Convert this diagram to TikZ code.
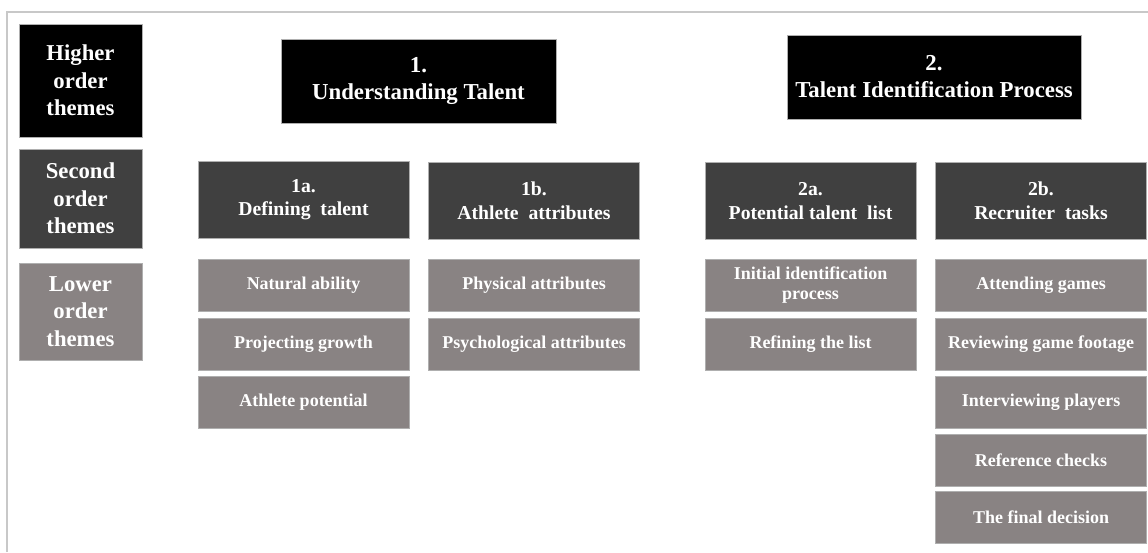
\documentclass[tikz,border=0pt]{standalone}
\usepackage{fontspec}
\setmainfont{Liberation Serif}
\usepackage{xcolor}
\usepackage{tikz}
\definecolor{thblack}{RGB}{0, 0, 0}
\definecolor{thdark}{RGB}{64, 64, 64}
\definecolor{thgray}{RGB}{137, 131, 131}
\definecolor{thframe}{RGB}{200, 200, 200}
\definecolor{thedge}{RGB}{175, 175, 175}

\begin{document}
\begin{tikzpicture}[x=1pt, y=-1pt,
  box/.style={rectangle, draw=thedge, line width=0.6pt, text=white, align=center, inner sep=0pt},
  keybox/.style={box, minimum width=123pt, font=\bfseries\fontsize{22.7}{27.5}\selectfont},
  hibox/.style={box, fill=thblack, minimum height=84pt, font=\bfseries\fontsize{22.8}{27}\selectfont},
  midbox/.style={box, fill=thdark, minimum width=211pt, minimum height=77pt, font=\bfseries\fontsize{19.7}{23.5}\selectfont},
  lowbox/.style={box, fill=thgray, minimum width=211pt, minimum height=52pt, font=\bfseries\fontsize{18}{20}\selectfont}]
\useasboundingbox (0,0) rectangle (1148,552);

% Frame
\draw[thframe, line width=1.5pt] (7,552) -- (7,12) -- (1148,12);

% Legend
\node[keybox, fill=thblack, minimum height=113pt] (higher) at (80.5,80.5) {Higher\\order\\themes};
\node[keybox, fill=thdark, minimum height=99pt] (second) at (80.5,198.5) {Second\\order\\themes};
\node[keybox, fill=thgray, minimum height=97pt] (lower) at (80.5,311.5) {Lower\\order\\themes};

% Higher order themes
\node[hibox, minimum width=275pt] (theme1) at (418.5,81) {1.\\Understanding Talent};
\node[hibox, minimum width=294pt] (theme2) at (934,77) {2.\\Talent Identification Process};

% Second order themes
\node[midbox] (sub1a) at (303.5,199.5) {1a.\\Defining~ talent};
\node[midbox] (sub1b) at (534,201) {1b.\\Athlete~ attributes};
\node[midbox] (sub2a) at (810.5,201) {2a.\\Potential talent~ list};
\node[midbox] (sub2b) at (1041,201) {2b.\\Recruiter~ tasks};

% Lower order themes
\node[lowbox] (natural) at (303.5,285.5) {Natural ability};
\node[lowbox] (growth) at (303.5,344.5) {Projecting growth};
\node[lowbox] (potential) at (303.5,402) {Athlete potential};

\node[lowbox] (physical) at (534,285.5) {Physical attributes};
\node[lowbox] (psych) at (534,344.5) {Psychological attributes};

\node[lowbox] (initial) at (810.5,285.5) {Initial identification\\process};
\node[lowbox] (refining) at (810.5,344.5) {Refining the list};

\node[lowbox] (games) at (1041,285.5) {Attending games};
\node[lowbox] (footage) at (1041,344.5) {Reviewing game footage};
\node[lowbox] (interview) at (1041,402) {Interviewing players};
\node[lowbox] (reference) at (1041,460) {Reference checks};
\node[lowbox] (decision) at (1041,517.5) {The final decision};
\end{tikzpicture}
\end{document}
